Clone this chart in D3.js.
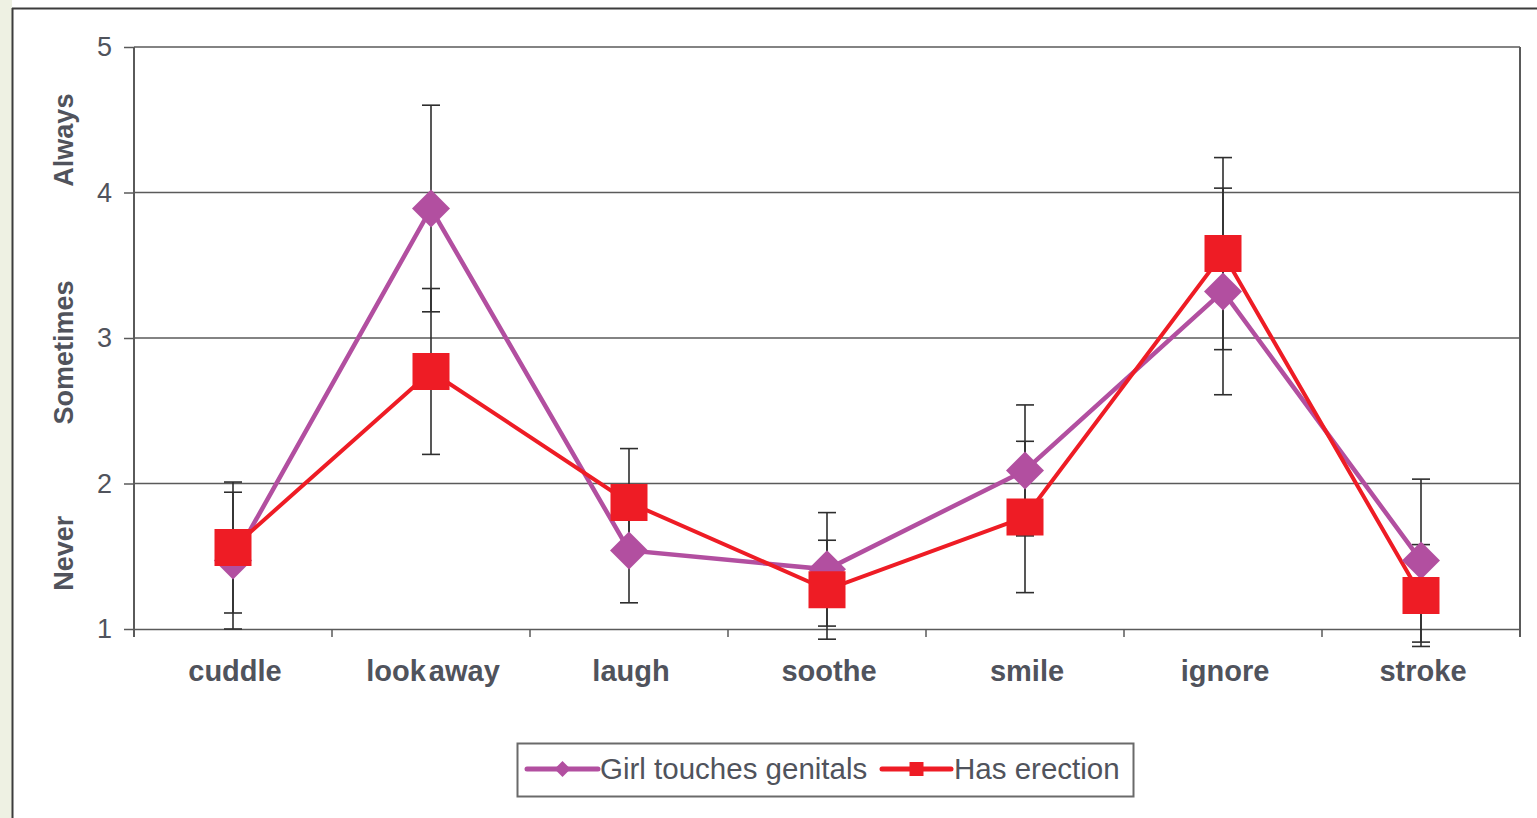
<!DOCTYPE html>
<html>
<head>
<meta charset="utf-8">
<script src="https://cdn.jsdelivr.net/npm/d3@7"></script>
<style>
  html, body { margin: 0; padding: 0; background: #fff; }
  svg { display: block; }
  text { font-family: "Liberation Sans", Arial, sans-serif; fill: #50535c; }
</style>
</head>
<body>
<div id="vis"></div>
<script>
'use strict'

// behaviours along the x axis
const categories = ['cuddle', 'look away', 'laugh', 'soothe', 'smile', 'ignore', 'stroke']
// mean ratings and error bar half widths
const girlTouches = [1.47, 3.89, 1.54, 1.41, 2.09, 3.32, 1.47]
const girlTouchesErr = [0.47, 0.71, 0.36, 0.39, 0.45, 0.71, 0.56]
const hasErection = [1.56, 2.77, 1.87, 1.27, 1.77, 3.58, 1.23]
const hasErectionErr = [0.45, 0.57, 0.37, 0.34, 0.52, 0.66, 0.35]
const yTicks = [1, 2, 3, 4, 5]
const yBands = [{label: 'Always', at: 4.36}, {label: 'Sometimes', at: 2.90}, {label: 'Never', at: 1.52}]

const seriesList = [
  {name: 'Girl touches genitals', values: girlTouches, err: girlTouchesErr, color: '#b24fa0', shape: 'diamond'},
  {name: 'Has erection', values: hasErection, err: hasErectionErr, color: '#ee1c25', shape: 'square'}
]

function wrapper(){
  let width = 1537
  let height = 818

  let svg = d3.select('#vis').append('svg')
    .attr('width', width)
    .attr('height', height)

  // frame around the figure
  svg.append('rect').attr('x', 0).attr('y', 0).attr('width', 12).attr('height', height).attr('fill', '#eef1e3')
  svg.append('line').attr('x1', 12.5).attr('x2', 12.5).attr('y1', 8).attr('y2', height)
    .attr('stroke', '#3c3c3c').attr('stroke-width', 2)
  svg.append('line').attr('x1', 12).attr('x2', width).attr('y1', 8.5).attr('y2', 8.5)
    .attr('stroke', '#3c3c3c').attr('stroke-width', 2)

  let left = 134, right = 1520, top = 47, bottom = 629

  let x = d3.scaleBand().domain(categories).range([left, right])
  let y = d3.scaleLinear().domain([1, 5]).range([bottom, top])

  // grid lines
  svg.append('g').selectAll('line')
    .data(yTicks.slice(1))
    .join('line')
    .attr('x1', left).attr('x2', right)
    .attr('y1', d => y(d)).attr('y2', d => y(d))
    .attr('stroke', '#5a5a5a').attr('stroke-width', 1.5)

  // right border
  svg.append('line').attr('x1', right).attr('x2', right).attr('y1', top).attr('y2', bottom + 8)
    .attr('stroke', '#5a5a5a').attr('stroke-width', 2)

  // y axis
  let yAxis = svg.append('g')
    .attr('transform', 'translate(' + left + ',0)')
    .call(d3.axisLeft(y).tickValues(yTicks).tickFormat(d3.format('d')).tickSize(10).tickPadding(12))
  yAxis.select('.domain').remove()
  yAxis.selectAll('.tick line').attr('stroke', '#5a5a5a').attr('stroke-width', 1.5)
  yAxis.selectAll('.tick text').attr('font-size', 27).attr('fill', '#50535c').attr('font-family', 'Liberation Sans, Arial, sans-serif')
  svg.append('line').attr('x1', left).attr('x2', left).attr('y1', top).attr('y2', bottom + 8)
    .attr('stroke', '#5a5a5a').attr('stroke-width', 2)

  // x axis
  let xAxis = svg.append('g')
    .attr('transform', 'translate(0,' + bottom + ')')
    .call(d3.axisBottom(x).tickSize(0).tickPadding(31))
  xAxis.select('.domain').attr('stroke', '#5a5a5a').attr('stroke-width', 1.5)
  xAxis.selectAll('.tick text')
    .attr('font-size', 29).attr('font-weight', 'bold').attr('fill', '#50535c')
    .attr('font-family', 'Liberation Sans, Arial, sans-serif')
    .attr('word-spacing', -5)
    .attr('dx', 2)
  // tick marks between the categories
  svg.append('g').selectAll('line')
    .data(categories.slice(1))
    .join('line')
    .attr('x1', d => x(d)).attr('x2', d => x(d))
    .attr('y1', bottom).attr('y2', bottom + 8)
    .attr('stroke', '#5a5a5a').attr('stroke-width', 1.5)

  // rotated band labels
  svg.append('g').selectAll('text')
    .data(yBands)
    .join('text')
    .attr('transform', d => 'translate(73,' + y(d.at) + ') rotate(-90)')
    .attr('text-anchor', 'middle')
    .attr('font-size', 27)
    .attr('font-weight', 'bold')
    .text(d => d.label)

  // error bars, under everything else
  let capW = 9
  seriesList.forEach(function(s){
    let g = svg.append('g').attr('class', 'err')
    categories.forEach(function(c, i){
      let cx = x(c) + x.bandwidth() / 2
      let lo = y(s.values[i] - s.err[i]), hi = y(s.values[i] + s.err[i])
      g.append('line').attr('x1', cx).attr('x2', cx).attr('y1', lo).attr('y2', hi)
        .attr('stroke', '#2e2e2e').attr('stroke-width', 1.6)
      g.append('line').attr('x1', cx - capW).attr('x2', cx + capW).attr('y1', lo).attr('y2', lo)
        .attr('stroke', '#2e2e2e').attr('stroke-width', 1.6)
      g.append('line').attr('x1', cx - capW).attr('x2', cx + capW).attr('y1', hi).attr('y2', hi)
        .attr('stroke', '#2e2e2e').attr('stroke-width', 1.6)
    })
  })

  let line = d3.line()
    .x((d, i) => x(categories[i]) + x.bandwidth() / 2)
    .y(d => y(d))

  seriesList.forEach(function(s){
    svg.append('path')
      .datum(s.values)
      .attr('d', line)
      .attr('fill', 'none')
      .attr('stroke', s.color)
      .attr('stroke-width', s.shape == 'diamond' ? 4.5 : 4)
      .attr('stroke-linejoin', 'miter')
  })

  function markerPath(shape, r){
    if(shape == 'diamond'){
      return 'M0,' + (-r) + 'L' + r + ',0L0,' + r + 'L' + (-r) + ',0Z'
    }
    return 'M' + (-r) + ',' + (-r) + 'H' + r + 'V' + r + 'H' + (-r) + 'Z'
  }

  seriesList.forEach(function(s){
    svg.append('g').selectAll('path')
      .data(s.values)
      .join('path')
      .attr('transform', (d, i) => 'translate(' + (x(categories[i]) + x.bandwidth() / 2) + ',' + y(d) + ')')
      .attr('d', markerPath(s.shape, s.shape == 'diamond' ? 19 : 18.5))
      .attr('fill', s.color)
  })

  // legend
  let legend = svg.append('g')
  legend.append('rect')
    .attr('x', 517.5).attr('y', 743.5).attr('width', 616).attr('height', 53)
    .attr('fill', '#fff').attr('stroke', '#6a6a6a').attr('stroke-width', 2)
  let legendItems = [
    {x0: 527, x1: 598, tx: 600},
    {x0: 882, x1: 951, tx: 954}
  ]
  seriesList.forEach(function(s, i){
    let it = legendItems[i]
    let cy = 769
    legend.append('line').attr('x1', it.x0).attr('x2', it.x1).attr('y1', cy).attr('y2', cy)
      .attr('stroke', s.color).attr('stroke-width', 5).attr('stroke-linecap', 'round')
    legend.append('path')
      .attr('transform', 'translate(' + ((it.x0 + it.x1) / 2) + ',' + cy + ')')
      .attr('d', markerPath(s.shape, s.shape == 'diamond' ? 8 : 7))
      .attr('fill', s.color)
    legend.append('text')
      .attr('x', it.tx).attr('y', cy + 10)
      .attr('font-size', 29.5)
      .text(s.name)
  })
}

wrapper()
</script>
</body>
</html>
